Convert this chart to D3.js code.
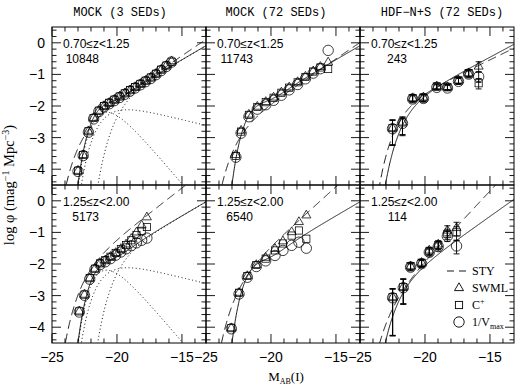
<!DOCTYPE html>
<html>
<head>
<meta charset="utf-8">
<script src="https://cdn.jsdelivr.net/npm/d3@7"></script>
<style>
  body { margin: 0; background: #fff; }
  svg { display: block; }
</style>
</head>
<body>
<svg id="chart" width="515" height="385"></svg>
<script>
/*********************
 * Data
 *********************/
const columnTitles = ['MOCK (3 SEDs)', 'MOCK (72 SEDs)', 'HDF\u2212N+S (72 SEDs)'];
const zBins = ['0.70\u2264z<1.25', '1.25\u2264z<2.00'];
const galaxyCounts = [10848, 11743, 243, 5173, 6540, 114];

const xMajorTicks = [-25, -20, -15];
const yMajorTicks = [-4, -3, -2, -1, 0];

// panel order: top row left->right, then bottom row
const mags = [
  [-23.0, -22.6, -22.2, -21.8, -21.4, -21.0, -20.6, -20.2, -19.8, -19.4, -19.0, -18.6, -18.2, -17.8, -17.4, -17.0, -16.6, -16.2, -15.8],
  [-22.7, -22.3, -21.7, -21.05, -20.4, -19.8, -19.2, -18.6, -17.95, -17.35, -16.75, -16.2, -15.6],
  [-22.5, -21.73, -20.95, -20.12, -19.09, -18.27, -17.42, -16.64, -15.87],
  [-22.9, -22.5, -22.1, -21.7, -21.3, -20.9, -20.5, -20.1, -19.7, -19.3, -18.9, -18.5, -18.1, -17.7],
  [-23.05, -22.46, -21.82, -21.13, -20.41, -19.69, -19.08, -18.41, -17.85, -17.28],
  [-22.49, -21.67, -21.11, -20.26, -19.67, -18.98, -18.28, -17.57]
];
const swml = [
  [-4.05, -3.55, -2.80, -2.38, -2.15, -2.00, -1.90, -1.80, -1.70, -1.60, -1.50, -1.40, -1.30, -1.20, -1.10, -0.98, -0.85, -0.72, -0.58],
  [-3.55, -2.78, -2.27, -2.02, -1.87, -1.73, -1.57, -1.41, -1.24, -1.07, -0.90, -0.76, -0.62],
  [-2.70, -2.52, -1.75, -1.73, -1.38, -1.40, -1.19, -0.96, -0.75],
  [-3.50, -2.97, -2.45, -2.15, -1.98, -1.88, -1.77, -1.65, -1.52, -1.38, -1.20, -1.00, -0.78, -0.52],
  [-4.03, -2.91, -2.38, -2.03, -1.80, -1.52, -1.28, -0.99, -0.67, -0.46],
  [-3.05, -2.73, -2.07, -1.96, -1.57, -1.38, -0.94, -0.86]
];
const cplus = [
  [-4.05, -3.55, -2.80, -2.38, -2.15, -2.00, -1.90, -1.80, -1.70, -1.60, -1.50, -1.40, -1.30, -1.20, -1.10, -0.98, -0.85, -0.72, -0.60],
  [-3.58, -2.81, -2.28, -2.03, -1.88, -1.74, -1.58, -1.42, -1.25, -1.08, -0.91, -0.78, -0.83],
  [-2.70, -2.52, -1.75, -1.73, -1.38, -1.40, -1.19, -0.96, -1.28],
  [-3.50, -2.97, -2.45, -2.15, -1.98, -1.88, -1.77, -1.65, -1.53, -1.40, -1.25, -1.08, -0.95, -0.83],
  [-4.03, -2.91, -2.38, -2.03, -1.83, -1.57, -1.35, -1.10, -0.94, -1.20],
  [-3.05, -2.73, -2.07, -1.96, -1.60, -1.40, -1.05, -1.00]
];
const vmax = [
  [-4.07, -3.57, -2.83, -2.41, -2.18, -2.03, -1.93, -1.83, -1.73, -1.63, -1.53, -1.43, -1.33, -1.23, -1.13, -1.01, -0.88, -0.75, -0.61],
  [-3.62, -2.86, -2.34, -2.10, -1.96, -1.82, -1.66, -1.49, -1.32, -1.14, -0.96, -0.82, -0.24],
  [-2.72, -2.55, -1.78, -1.76, -1.41, -1.43, -1.22, -0.99, -1.07],
  [-3.52, -2.99, -2.48, -2.18, -2.02, -1.93, -1.83, -1.72, -1.62, -1.52, -1.42, -1.33, -1.25, -1.18],
  [-4.05, -2.95, -2.42, -2.08, -1.90, -1.73, -1.57, -1.41, -1.31, -1.50],
  [-3.07, -2.75, -2.10, -1.99, -1.63, -1.45, -1.12, -1.43]
];
// error bars (dex) for the HDF panels only
const errHi = [null, null,
  [0.26, 0.17, 0.10, 0.10, 0.08, 0.08, 0.09, 0.10, 0.15],
  null, null,
  [0.27, 0.26, 0.10, 0.10, 0.10, 0.12, 0.15, 0.18]];
const errLo = [null, null,
  [0.53, 0.39, 0.12, 0.12, 0.09, 0.09, 0.10, 0.12, 0.18],
  null, null,
  [1.21, 0.53, 0.12, 0.12, 0.12, 0.14, 0.17, 0.25]];

// Schechter parameters [M*, alpha, log A]   (log phi = logA + 0.4(a+1)(M*-M) - 10^(0.4(M*-M))/ln10)
const styFits = [
  [-22.5, -1.7, -2.51], [-22.4, -1.7, -2.58], [-21.7, -1.5, -1.88],
  [-22.3, -1.8, -1.93], [-22.35, -1.93, -2.29], [-22.5, -2.1, -2.99]
];
// input LF of the mock catalogues: three SED components per redshift bin
const mockComponents = [
  [[-20.6, 0.2, -1.77], [-20.7, -0.75, -1.86], [-19.6, -1.6, -1.64]],
  [[-20.6, 0.2, -1.77], [-20.7, -0.75, -1.86], [-19.6, -1.6, -1.58]]
];
// solid reference curve for the HDF panels
const hdfFits = [[-21.25, -1.55, -1.83], [-21.6, -1.73, -2.42]];

/*********************
 * Layout
 *********************/
const left0 = 52, top0 = 27, panelW = 154, panelH = 158;
const x = d3.scaleLinear().domain([-25, -13.15]).range([0, panelW]);
const y = d3.scaleLinear().domain([-4.5, 0.5]).range([panelH, 0]);
const sans = 'Liberation Sans, Arial, Helvetica, sans-serif';
const serif = 'Liberation Serif, Times New Roman, serif';

const svg = d3.select('#chart');

function schechter(M, p) {
  const d = p[0] - M;
  return p[2] + 0.4 * (p[1] + 1) * d - Math.pow(10, 0.4 * d) / Math.LN10;
}
function sumOf(M, comps) {
  return Math.log10(d3.sum(comps, p => Math.pow(10, schechter(M, p))));
}

const grid = d3.range(-25, -13.1, 0.02);
const line = d3.line()
  .x(d => x(d[0]))
  .y(d => y(Math.max(d[1], -8)));

function curve(fn) {
  return line(grid.map(M => [M, fn(M)]));
}

// marker shapes
function triPath(cx, cy) {
  const r = 5.2;
  return `M${cx},${cy - r}L${cx + r * 0.87},${cy + r * 0.5}L${cx - r * 0.87},${cy + r * 0.5}Z`;
}

for (let r = 0; r < 2; r++) {
  for (let c = 0; c < 3; c++) {
    const i = r * 3 + c;
    const g = svg.append('g')
      .attr('transform', `translate(${left0 + c * panelW},${top0 + r * panelH})`);

    g.append('clipPath').attr('id', 'clip' + i)
      .append('rect').attr('width', panelW).attr('height', panelH);
    const plot = g.append('g').attr('clip-path', `url(#clip${i})`);

    // curves
    if (c < 2) {
      plot.append('path')
        .attr('d', curve(M => sumOf(M, mockComponents[r])))
        .attr('fill', 'none').attr('stroke', '#000').attr('stroke-width', 0.9);
    } else {
      plot.append('path')
        .attr('d', curve(M => schechter(M, hdfFits[r])))
        .attr('fill', 'none').attr('stroke', '#000').attr('stroke-width', 0.9);
    }
    if (c === 0) {
      mockComponents[r].forEach(p => {
        plot.append('path')
          .attr('d', curve(M => schechter(M, p)))
          .attr('fill', 'none').attr('stroke', '#000').attr('stroke-width', 1)
          .attr('stroke-dasharray', '1,2.6');
      });
    }
    plot.append('path')
      .attr('d', curve(M => schechter(M, styFits[i])))
      .attr('fill', 'none').attr('stroke', '#000').attr('stroke-width', 0.9)
      .attr('stroke-dasharray', '9,5');

    // error bars
    if (errHi[i]) {
      const eb = plot.append('g').attr('stroke', '#000').attr('stroke-width', 0.9);
      [swml[i], cplus[i], vmax[i]].forEach(vals => {
        mags[i].forEach((M, k) => {
          const cx = x(M);
          const y1 = y(vals[k] + errHi[i][k]), y2 = y(vals[k] - errLo[i][k]);
          eb.append('line').attr('x1', cx).attr('x2', cx).attr('y1', y1).attr('y2', y2);
          eb.append('line').attr('x1', cx - 3).attr('x2', cx + 3).attr('y1', y1).attr('y2', y1);
          eb.append('line').attr('x1', cx - 3).attr('x2', cx + 3).attr('y1', y2).attr('y2', y2);
        });
      });
    }

    // markers
    const mk = plot.append('g').attr('fill', 'none').attr('stroke', '#000').attr('stroke-width', 0.75);
    mags[i].forEach((M, k) => {
      mk.append('path').attr('d', triPath(x(M), y(swml[i][k])));
      mk.append('rect')
        .attr('x', x(M) - 3.6).attr('y', y(cplus[i][k]) - 3.6)
        .attr('width', 7.2).attr('height', 7.2);
      mk.append('circle')
        .attr('cx', x(M)).attr('cy', y(vmax[i][k])).attr('r', 5.2);
    });

    // frame + inward ticks on all sides
    const tickG = g.append('g').attr('stroke', '#000').attr('stroke-width', 0.9);
    const minorX = d3.range(-25, -13, 1).filter(v => xMajorTicks.indexOf(v) < 0);
    const minorY = d3.range(-44, 5, 2).map(v => v / 10).filter(v => yMajorTicks.indexOf(v) < 0);
    [[xMajorTicks, 9], [minorX, 4.5]].forEach(([vals, len]) => {
      vals.forEach(v => {
        tickG.append('line').attr('x1', x(v)).attr('x2', x(v)).attr('y1', panelH).attr('y2', panelH - len);
        tickG.append('line').attr('x1', x(v)).attr('x2', x(v)).attr('y1', 0).attr('y2', len);
      });
    });
    [[yMajorTicks, 9], [minorY, 4.5]].forEach(([vals, len]) => {
      vals.forEach(v => {
        tickG.append('line').attr('x1', 0).attr('x2', len).attr('y1', y(v)).attr('y2', y(v));
        tickG.append('line').attr('x1', panelW).attr('x2', panelW - len).attr('y1', y(v)).attr('y2', y(v));
      });
    });
    g.append('rect').attr('width', panelW).attr('height', panelH)
      .attr('fill', 'none').attr('stroke', '#000').attr('stroke-width', 1);

    // tick labels
    if (r === 1) {
      g.selectAll('.xl').data(xMajorTicks).enter().append('text')
        .attr('x', d => x(d)).attr('y', panelH + 19)
        .attr('text-anchor', 'middle')
        .style('font', `14px ${sans}`)
        .text(d3.format('d'));
    }
    if (c === 0) {
      g.selectAll('.yl').data(yMajorTicks).enter().append('text')
        .attr('x', -7).attr('y', d => y(d)).attr('dy', '0.36em')
        .attr('text-anchor', 'end')
        .style('font', `14px ${sans}`)
        .text(d3.format('d'));
    }

    // panel annotations
    g.append('text').attr('x', 11).attr('y', 21)
      .style('font', `12px ${sans}`).text(zBins[r]);
    g.append('text').attr('x', 47).attr('y', 36)
      .attr('text-anchor', 'end')
      .style('font', `12px ${sans}`).text(galaxyCounts[i]);
  }
}

// column titles
const titleX = [120, 276, 442];
columnTitles.forEach((t, c) => {
  svg.append('text').attr('x', titleX[c]).attr('y', 16)
    .attr('text-anchor', 'middle')
    .style('font', '12px Liberation Mono, DejaVu Sans Mono, monospace')
    .text(t);
});

// axis titles
const xt = svg.append('text').attr('x', 286).attr('y', 381)
  .attr('text-anchor', 'middle').style('font', `13px ${serif}`);
xt.append('tspan').text('M');
xt.append('tspan').attr('dy', 3).style('font-size', '8px').text('AB');
xt.append('tspan').attr('dy', -3).text('(I)');

const yt = svg.append('text')
  .attr('transform', 'translate(14,185) rotate(-90)')
  .attr('text-anchor', 'middle').style('font', `14.5px ${serif}`);
yt.append('tspan').text('log \u03C6 (mag');
yt.append('tspan').attr('dy', -5).style('font-size', '10px').text('\u22121');
yt.append('tspan').attr('dy', 5).text(' Mpc');
yt.append('tspan').attr('dy', -5).style('font-size', '10px').text('\u22123');
yt.append('tspan').attr('dy', 5).text(')');

// legend (bottom-right panel)
const lg = svg.append('g').attr('stroke', '#000').attr('fill', 'none').attr('stroke-width', 0.9);
lg.append('line').attr('x1', 447).attr('x2', 466).attr('y1', 271).attr('y2', 271)
  .attr('stroke-dasharray', '7,5');
lg.append('path').attr('d', triPath(459, 288));
lg.append('rect').attr('x', 455.4).attr('y', 301.4).attr('width', 7.2).attr('height', 7.2);
lg.append('circle').attr('cx', 459).attr('cy', 322).attr('r', 5.2);
const legendText = [['STY', 275], ['SWML', 292], ['C', 309]];
legendText.forEach(([t, yy]) => {
  svg.append('text').attr('x', 472).attr('y', yy).style('font', `12px ${serif}`).text(t);
});
svg.append('text').attr('x', 480).attr('y', 304).style('font', `8px ${serif}`).text('+');
const vt = svg.append('text').attr('x', 472).attr('y', 326).style('font', `12px ${serif}`);
vt.append('tspan').text('1/V');
vt.append('tspan').attr('dy', 3).style('font-size', '8px').text('max');
</script>
</body>
</html>
